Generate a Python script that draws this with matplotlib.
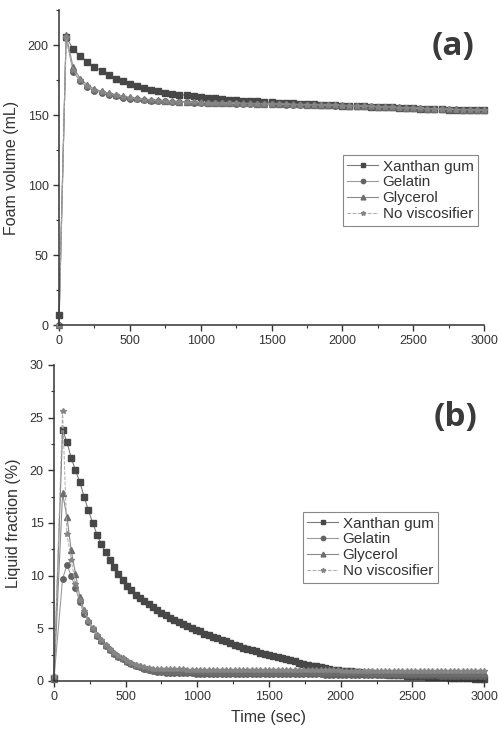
import matplotlib
matplotlib.use("Agg")
import matplotlib.pyplot as plt
from matplotlib.ticker import MultipleLocator

plt.rcParams['font.family'] = ['Liberation Sans', 'DejaVu Sans']

series_names = ["Xanthan gum", "Gelatin", "Glycerol", "No viscosifier"]

# ---------------- Panel (a): foam volume (mL) ----------------
time_a = [0] + list(range(50, 3001, 50))

xanthan_a = [7, 206, 197, 192, 188, 184.5, 181.5, 178.5, 176, 174,
             172, 170.5, 169, 168, 167, 166, 165.3, 164.6, 164, 163.5,
             163, 162.5, 162, 161.5, 161, 160.6, 160.3, 160, 159.7, 159.4,
             159.1, 158.8, 158.5, 158.3, 158, 157.8, 157.6, 157.4, 157.2, 157,
             156.8, 156.6, 156.4, 156.2, 156, 155.8, 155.6, 155.4, 155.2, 155,
             154.8, 154.6, 154.4, 154.2, 154, 153.9, 153.8, 153.6, 153.5, 153.4,
             153.3]
gelatin_a = [0, 205, 181, 174, 170, 167.5, 166, 164.5, 163.5, 162.5,
             161.8, 161.2, 160.7, 160.3, 160, 159.7, 159.5, 159.3, 159.1, 158.9,
             158.7, 158.6, 158.5, 158.4, 158.3, 158.2, 158.1, 158, 157.9, 157.8,
             157.7, 157.6, 157.5, 157.4, 157.3, 157.2, 157.1, 157, 156.9, 156.8,
             156.7, 156.6, 156.4, 156.2, 156, 155.8, 155.6, 155.4, 155.2, 155,
             154.8, 154.6, 154.4, 154.2, 154, 153.9, 153.8, 153.7, 153.6, 153.5,
             153.4]
glycerol_a = [0, 207, 184, 176, 171.5, 168.5, 167, 165.5, 164.5, 163.5,
              162.6, 161.9, 161.3, 160.8, 160.4, 160.1, 159.8, 159.6, 159.4, 159.2,
              159, 158.9, 158.8, 158.7, 158.6, 158.5, 158.4, 158.3, 158.2, 158.1,
              158, 157.9, 157.8, 157.7, 157.6, 157.5, 157.4, 157.3, 157.2, 157.1,
              157, 156.8, 156.6, 156.4, 156.2, 156, 155.8, 155.6, 155.4, 155.2,
              155, 154.8, 154.6, 154.4, 154.2, 154.1, 154, 153.9, 153.8, 153.7,
              153.6]
novisc_a = [0, 206, 182, 175, 170.5, 168, 166.5, 165, 164, 163,
            162.2, 161.5, 161, 160.5, 160.2, 159.9, 159.6, 159.4, 159.2, 159,
            158.8, 158.7, 158.6, 158.5, 158.4, 158.3, 158.2, 158.1, 158, 157.9,
            157.8, 157.7, 157.6, 157.5, 157.4, 157.3, 157.2, 157.1, 157, 156.9,
            156.8, 156.7, 156.5, 156.3, 156.1, 155.9, 155.7, 155.5, 155.3, 155.1,
            154.9, 154.7, 154.5, 154.3, 154.1, 154, 153.9, 153.8, 153.7, 153.6,
            153.5]

# ---------------- Panel (b): liquid fraction (%) ----------------
time_b = [0] + list(range(60, 3001, 30))

xanthan_b = [0.3, 23.8, 22.7, 21.2, 20.0, 18.9, 17.5, 16.2, 15.0, 13.9,
             13.0, 12.2, 11.5, 10.8, 10.2, 9.6, 9.0, 8.6, 8.2, 7.9,
             7.6, 7.3, 7.0, 6.7, 6.5, 6.25, 6.0, 5.8, 5.6, 5.4,
             5.2, 5.0, 4.85, 4.7, 4.5, 4.35, 4.2, 4.05, 3.9, 3.75,
             3.6, 3.45, 3.3, 3.15, 3.0, 2.9, 2.8, 2.7, 2.6, 2.5,
             2.4, 2.3, 2.2, 2.1, 2.0, 1.85, 1.75, 1.65, 1.55, 1.45,
             1.38, 1.3, 1.22, 1.15, 1.08, 1.02, 0.98, 0.94, 0.9, 0.86,
             0.82, 0.79, 0.76, 0.73, 0.7, 0.67, 0.64, 0.61, 0.58, 0.56,
             0.54, 0.52, 0.5, 0.48, 0.46, 0.44, 0.42, 0.4, 0.38, 0.36,
             0.34, 0.33, 0.31, 0.3, 0.28, 0.26, 0.24, 0.23, 0.21, 0.2]
gelatin_b = [0.2, 9.7, 11.0, 10.0, 8.8, 7.5, 6.4, 5.6, 4.9, 4.3,
             3.8, 3.35, 2.95, 2.6, 2.3, 2.05, 1.8, 1.6, 1.42, 1.28,
             1.15, 1.04, 0.95, 0.88, 0.82, 0.78, 0.75, 0.74, 0.73, 0.73,
             0.72, 0.72, 0.71, 0.71, 0.71, 0.70, 0.70, 0.70, 0.69, 0.69,
             0.69, 0.68, 0.68, 0.68, 0.67, 0.67, 0.67, 0.66, 0.66, 0.66,
             0.65, 0.65, 0.65, 0.64, 0.64, 0.64, 0.63, 0.63, 0.63, 0.62,
             0.62, 0.62, 0.61, 0.61, 0.61, 0.60, 0.60, 0.60, 0.59, 0.59,
             0.59, 0.58, 0.58, 0.58, 0.57, 0.57, 0.57, 0.56, 0.56, 0.56,
             0.55, 0.55, 0.55, 0.54, 0.54, 0.54, 0.53, 0.53, 0.53, 0.52,
             0.52, 0.52, 0.51, 0.51, 0.51, 0.50, 0.50, 0.50, 0.49, 0.49]
glycerol_b = [0.2, 17.8, 15.6, 12.4, 10.2, 8.0, 6.7, 5.8, 5.0, 4.4,
              3.9, 3.45, 3.05, 2.7, 2.4, 2.15, 1.9, 1.7, 1.52, 1.38,
              1.26, 1.16, 1.08, 1.02, 0.98, 0.95, 0.93, 0.92, 0.92, 0.91,
              0.91, 0.91, 0.90, 0.90, 0.90, 0.90, 0.89, 0.89, 0.89, 0.89,
              0.88, 0.88, 0.88, 0.88, 0.87, 0.87, 0.87, 0.87, 0.86, 0.86,
              0.86, 0.86, 0.85, 0.85, 0.85, 0.85, 0.84, 0.84, 0.84, 0.84,
              0.83, 0.83, 0.83, 0.83, 0.82, 0.82, 0.82, 0.82, 0.81, 0.81,
              0.81, 0.81, 0.80, 0.80, 0.80, 0.80, 0.79, 0.79, 0.79, 0.79,
              0.78, 0.78, 0.78, 0.78, 0.77, 0.77, 0.77, 0.77, 0.76, 0.76,
              0.76, 0.76, 0.75, 0.75, 0.75, 0.75, 0.74, 0.74, 0.74, 0.74]
novisc_b = [0.5, 25.6, 14.0, 11.5, 9.2, 7.7, 6.6, 5.7, 5.0, 4.4,
            3.9, 3.45, 3.05, 2.7, 2.4, 2.15, 1.92, 1.72, 1.56, 1.43,
            1.32, 1.24, 1.18, 1.14, 1.12, 1.10, 1.10, 1.09, 1.09, 1.09,
            1.08, 1.08, 1.08, 1.08, 1.07, 1.07, 1.07, 1.07, 1.06, 1.06,
            1.06, 1.06, 1.05, 1.05, 1.05, 1.05, 1.04, 1.04, 1.04, 1.04,
            1.03, 1.03, 1.03, 1.03, 1.02, 1.02, 1.02, 1.02, 1.01, 1.01,
            1.01, 1.01, 1.00, 1.00, 1.00, 1.00, 0.99, 0.99, 0.99, 0.99,
            0.98, 0.98, 0.98, 0.98, 0.97, 0.97, 0.97, 0.97, 0.96, 0.96,
            0.96, 0.96, 0.95, 0.95, 0.95, 0.95, 0.94, 0.94, 0.94, 0.94,
            0.93, 0.93, 0.93, 0.93, 0.92, 0.92, 0.92, 0.92, 0.91, 0.91]

styles = [
    dict(marker='s', ms=3.9, mfc='#474747', mec='#474747', color='#7a7a7a', ls='-', lw=0.8),
    dict(marker='o', ms=3.9, mfc='#626262', mec='#626262', color='#9a9a9a', ls='-', lw=0.8),
    dict(marker='^', ms=4.3, mfc='#6c6c6c', mec='#6c6c6c', color='#8a8a8a', ls='-', lw=0.8),
    dict(marker='*', ms=4.3, mfc='#858585', mec='#858585', color='#aaaaaa', ls='--', lw=0.7),
]

fig = plt.figure(figsize=(4.98, 7.32), dpi=100)
ax_a = fig.add_axes([0.1185, 0.556, 0.8534, 0.4303])
ax_b = fig.add_axes([0.1084, 0.0697, 0.8635, 0.4317])

tick_col = '#333333'

def style_axes(ax):
    for s in ('top', 'right'):
        ax.spines[s].set_visible(False)
    for s in ('left', 'bottom'):
        ax.spines[s].set_color(tick_col)
        ax.spines[s].set_linewidth(1.1)
    ax.tick_params(which='major', direction='out', length=4, width=1, colors=tick_col,
                   labelsize=9, labelcolor='#333333')
    ax.tick_params(which='minor', direction='out', length=2.5, width=0.8, colors=tick_col)
    ax.set_xlim(0, 3000)
    ax.xaxis.set_major_locator(MultipleLocator(500))
    ax.xaxis.set_minor_locator(MultipleLocator(250))

for ys, st, name in zip([xanthan_a, gelatin_a, glycerol_a, novisc_a], styles, series_names):
    ax_a.plot(time_a, ys, label=name, clip_on=False, **st)
style_axes(ax_a)
ax_a.set_ylim(0, 225)
ax_a.yaxis.set_major_locator(MultipleLocator(50))
ax_a.yaxis.set_minor_locator(MultipleLocator(25))
ax_a.set_ylabel("Foam volume (mL)", fontsize=11.5, color='#333333', labelpad=6)
ax_a.text(0.927, 0.883, "(a)", transform=ax_a.transAxes, fontsize=24, fontweight='bold',
          family=['Open Sans', 'DejaVu Sans'], color='#3a3a3a', ha='center', va='center')
leg_a = ax_a.legend(loc='upper right', bbox_to_anchor=(0.986, 0.54), fontsize=11,
                    frameon=True, fancybox=False, framealpha=1, edgecolor='#888888',
                    handlelength=2.0, handletextpad=0.3, labelspacing=0.12,
                    borderpad=0.3, borderaxespad=0, markerscale=0.8)
leg_a.get_frame().set_linewidth(0.8)
for t in leg_a.get_texts():
    t.set_color('#333333')

for ys, st, name in zip([xanthan_b, gelatin_b, glycerol_b, novisc_b], styles, series_names):
    ax_b.plot(time_b, ys, label=name, clip_on=False, **st)
style_axes(ax_b)
ax_b.set_ylim(0, 30)
ax_b.yaxis.set_major_locator(MultipleLocator(5))
ax_b.yaxis.set_minor_locator(MultipleLocator(2.5))
ax_b.set_ylabel("Liquid fraction (%)", fontsize=11.5, color='#333333', labelpad=6)
ax_b.set_xlabel("Time (sec)", fontsize=11.5, color='#333333', labelpad=5)
ax_b.text(0.935, 0.835, "(b)", transform=ax_b.transAxes, fontsize=24, fontweight='bold',
          family=['Open Sans', 'DejaVu Sans'], color='#3a3a3a', ha='center', va='center')
leg_b = ax_b.legend(loc='upper right', bbox_to_anchor=(0.893, 0.535), fontsize=11,
                    frameon=True, fancybox=False, framealpha=1, edgecolor='#888888',
                    handlelength=2.0, handletextpad=0.3, labelspacing=0.12,
                    borderpad=0.3, borderaxespad=0, markerscale=0.8)
leg_b.get_frame().set_linewidth(0.8)
for t in leg_b.get_texts():
    t.set_color('#333333')

fig.savefig("out.png", dpi=100)
